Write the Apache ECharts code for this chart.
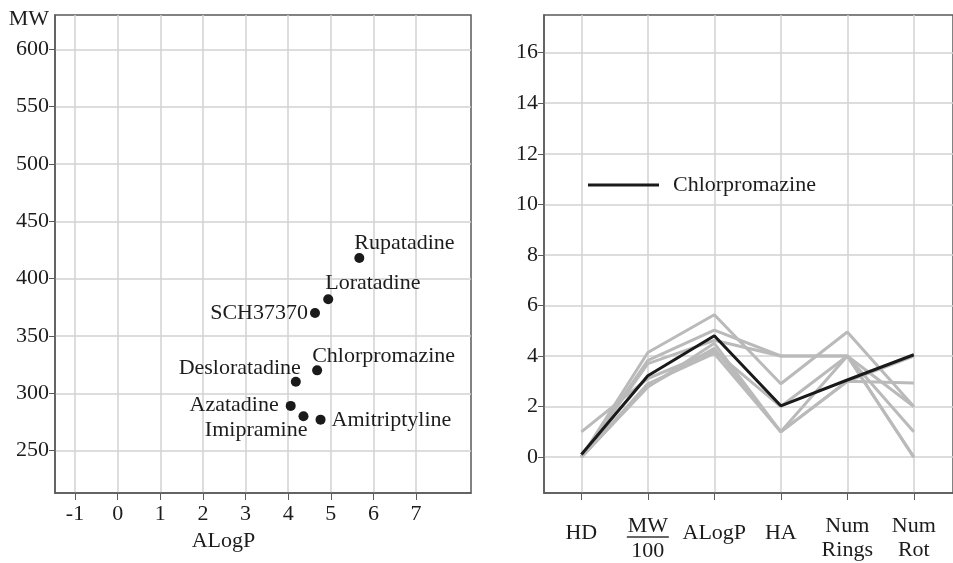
<!DOCTYPE html>
<html>
<head>
<meta charset="utf-8">
<script src="https://cdn.jsdelivr.net/npm/echarts@6/dist/echarts.min.js"></script>
<style>
html,body{margin:0;padding:0;background:#fff;}
#c{width:953px;height:563px;}
</style>
</head>
<body>
<div id="c"></div>
<script>
// ---- Left scatter data ----
const drugNames = ['Rupatadine','Loratadine','SCH37370','Chlorpromazine','Desloratadine','Azatadine','Imipramine','Amitriptyline'];
const alogpValues = [5.67, 4.94, 4.63, 4.68, 4.18, 4.06, 4.36, 4.76];
const mwValues = [418, 382, 370, 320, 310, 289, 280, 277];
const scatterXTicks = [-1, 0, 1, 2, 3, 4, 5, 6, 7];
const scatterYTicks = [250, 300, 350, 400, 450, 500, 550, 600];

// ---- Right profile data ----
const profileCategories = ['HD', 'MW/100', 'ALogP', 'HA', 'NumRings', 'NumRot'];
const profileYTicks = [0, 2, 4, 6, 8, 10, 12, 14, 16];
const rupatadine = [0, 4.14, 5.63, 2.9, 4.95, 2.0];
const loratadine = [0, 3.83, 5.02, 4, 4, 2];
const sch37370 = [0, 3.70, 4.62, 4, 4, 1];
const desloratadine = [1, 3.11, 4.2, 2, 4, 0];
const azatadine = [0, 2.90, 4.1, 1, 4, 0];
const imipramine = [0, 2.80, 4.3, 1, 3, 4];
const amitriptyline = [0, 2.77, 4.5, 1, 3, 2.93];
const chlorpromazine = [0.1, 3.22, 4.8, 2.03, 3.05, 4.05];
const grayProfiles = [
  ['Rupatadine', rupatadine], ['Loratadine', loratadine], ['SCH37370', sch37370],
  ['Desloratadine', desloratadine], ['Azatadine', azatadine],
  ['Imipramine', imipramine], ['Amitriptyline', amitriptyline]
];

// label placement (style only)
const labelPlacement = {
  'Rupatadine': ['right', [-15, -15]],
  'Loratadine': ['right', [-13, -16]],
  'SCH37370': ['left', [3, 0]],
  'Chlorpromazine': ['right', [-15, -14]],
  'Desloratadine': ['left', [15, -14]],
  'Azatadine': ['left', [-2, -1]],
  'Imipramine': ['left', [14, 14]],
  'Amitriptyline': ['right', [1, 1]]
};

const FONT = 'Liberation Serif';
const TXT = '#1c1c1c';
const FRAME = '#5a5a5a';
const GRID = '#d2d2d2';

const chart = echarts.init(document.getElementById('c'), null, {renderer: 'canvas'});

const scatterData = drugNames.map((n, i) => ({
  name: n,
  value: [alogpValues[i], mwValues[i]],
  label: {show: true, position: labelPlacement[n][0], offset: labelPlacement[n][1], formatter: n}
}));

const labelRich = {
  s: {fontFamily: FONT, fontSize: 22, color: TXT, lineHeight: 34},
  a: {fontFamily: FONT, fontSize: 22, color: TXT, lineHeight: 20},
  b: {fontFamily: FONT, fontSize: 22, color: TXT, lineHeight: 29},
  m: {fontFamily: FONT, fontSize: 22, color: TXT, lineHeight: 20},
  bar: {width: 42, height: 1.5, lineHeight: 2, backgroundColor: '#333'},
  d: {fontFamily: FONT, fontSize: 22, color: TXT, lineHeight: 27}
};
function catLabel(v) {
  const c = profileCategories[Math.round(v)];
  if (c === 'MW/100') return '{m|MW}\n{bar|}\n{d|100}';
  if (c === 'NumRings') return '{a|Num}\n{b|Rings}';
  if (c === 'NumRot') return '{a|Num}\n{b|Rot}';
  return '{s|' + c + '}';
}

const series = [
  {
    type: 'scatter', xAxisIndex: 0, yAxisIndex: 0,
    symbolSize: 10,
    itemStyle: {color: '#1a1a1a', opacity: 1},
    label: {fontFamily: FONT, fontSize: 22, color: TXT, distance: 5},
    data: scatterData
  }
];
grayProfiles.forEach(([n, vals]) => {
  series.push({
    type: 'line', name: n, xAxisIndex: 1, yAxisIndex: 1,
    showSymbol: false, symbol: 'none',
    lineStyle: {color: '#bababa', width: 3},
    itemStyle: {color: '#bababa'},
    z: 2,
    data: vals.map((v, i) => [i, v])
  });
});
series.push({
  type: 'line', name: 'Chlorpromazine', xAxisIndex: 1, yAxisIndex: 1,
  showSymbol: false, symbol: 'none',
  lineStyle: {color: '#1a1a1a', width: 3},
  itemStyle: {color: '#1a1a1a'},
  z: 3,
  data: chlorpromazine.map((v, i) => [i, v])
});

const option = {
  animation: false,
  backgroundColor: '#fff',
  textStyle: {fontFamily: FONT},
  legend: {
    data: ['Chlorpromazine'],
    left: 583, top: 169,
    icon: 'rect', itemWidth: 71, itemHeight: 3,
    textStyle: {fontFamily: FONT, fontSize: 22, color: TXT, padding: [0, 0, 0, 9]}
  },
  grid: [
    {left: 55, top: 15, width: 416, height: 478, show: true, borderColor: FRAME, borderWidth: 1.5, backgroundColor: 'transparent'},
    {left: 544, top: 15, width: 420, height: 478, show: true, borderColor: FRAME, borderWidth: 1.5, backgroundColor: 'transparent'}
  ],
  xAxis: [
    {
      gridIndex: 0, type: 'value', min: -1.47, max: 8.29,
      name: 'ALogP', nameLocation: 'middle', nameGap: 37,
      nameTextStyle: {fontFamily: FONT, fontSize: 22, color: TXT, padding: [0, 79, 0, 0]},
      axisLine: {show: true, onZero: false, lineStyle: {color: FRAME, width: 1.5}},
      axisTick: {show: true, length: 7, customValues: scatterXTicks, lineStyle: {color: FRAME, width: 1}},
      axisLabel: {customValues: scatterXTicks, margin: 10, fontFamily: FONT, fontSize: 22, color: TXT},
      splitLine: {show: true, lineStyle: {color: GRID, width: 1.5}}
    },
    {
      gridIndex: 1, type: 'value', min: -0.562, max: 5.59,
      axisLine: {show: true, onZero: false, lineStyle: {color: FRAME, width: 1.5}},
      axisTick: {show: true, length: 7, customValues: [0, 1, 2, 3, 4, 5], lineStyle: {color: FRAME, width: 1}},
      axisLabel: {customValues: [0, 1, 2, 3, 4, 5], margin: 23, formatter: catLabel, rich: labelRich},
      splitLine: {show: true, lineStyle: {color: GRID, width: 1.5}}
    }
  ],
  yAxis: [
    {
      gridIndex: 0, type: 'value', min: 213, max: 630,
      name: 'MW', nameLocation: 'end', nameGap: -4,
      nameTextStyle: {fontFamily: FONT, fontSize: 22, color: TXT, align: 'right', verticalAlign: 'middle', padding: [0, 6, 0, 0]},
      axisLine: {show: true, onZero: false, lineStyle: {color: FRAME, width: 1.5}},
      axisTick: {show: true, length: 6, customValues: scatterYTicks, lineStyle: {color: FRAME, width: 1}},
      axisLabel: {customValues: scatterYTicks, margin: 6, fontFamily: FONT, fontSize: 22, color: TXT},
      splitLine: {show: true, lineStyle: {color: GRID, width: 1.5}}
    },
    {
      gridIndex: 1, type: 'value', min: -1.42, max: 17.49,
      axisLine: {show: true, onZero: false, lineStyle: {color: FRAME, width: 1.5}},
      axisTick: {show: true, length: 6, customValues: profileYTicks, lineStyle: {color: FRAME, width: 1}},
      axisLabel: {customValues: profileYTicks, margin: 6, fontFamily: FONT, fontSize: 22, color: TXT},
      splitLine: {show: true, lineStyle: {color: GRID, width: 1.5}}
    }
  ],
  series: series
};
chart.setOption(option);
</script>
</body>
</html>
